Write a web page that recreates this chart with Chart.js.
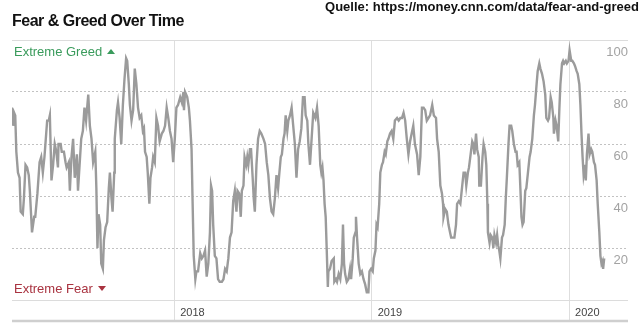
<!DOCTYPE html>
<html>
<head>
<meta charset="utf-8">
<title>Fear &amp; Greed Over Time</title>
<script src="https://cdn.jsdelivr.net/npm/chart.js@4/dist/chart.umd.min.js"></script>
<style>
  html, body { margin: 0; padding: 0; background: #fff; }
  #wrap { position: relative; width: 641px; height: 333px; overflow: hidden; font-family: "Liberation Sans", Arial, Helvetica, sans-serif; }
  #chart { position: absolute; left: 0; top: 0; }
  .title { position: absolute; left: 12px; top: 11px; font-size: 16px; line-height: 20px; font-weight: bold; letter-spacing: -0.5px; color: #111; white-space: nowrap; }
  .source { position: absolute; right: 2px; top: -1px; font-size: 13px; line-height: 15px; font-weight: bold; color: #111; white-space: nowrap; }
  .zone { position: absolute; left: 14px; font-size: 13px; line-height: 15px; white-space: nowrap; }
  .greed { top: 44px; color: #3a9b5c; }
  .fear { top: 281px; color: #a93340; }
  .tri { display: inline-block; width: 0; height: 0; margin-left: 5px; vertical-align: 2px; border-left: 4.5px solid transparent; border-right: 4.5px solid transparent; }
  .greed .tri { border-bottom: 5px solid #3a9b5c; }
  .fear .tri { border-top: 5px solid #a93340; }
</style>
</head>
<body>
<div id="wrap">
  <canvas id="chart" width="641" height="333"></canvas>
  <div class="title">Fear &amp; Greed Over Time</div>
  <div class="source">Quelle: https://money.cnn.com/data/fear-and-greed</div>
  <div class="zone greed">Extreme Greed<span class="tri"></span></div>
  <div class="zone fear">Extreme Fear<span class="tri"></span></div>
</div>
<script>
// Day of each reading, counted from 1 Jan 2017
const days = [
  65, 67, 69, 71, 73, 76, 79, 81, 85, 87, 90, 93, 96, 98, 102, 106, 108, 112, 116, 119,
  122, 125, 130, 133, 135, 138, 141, 144, 147, 150, 151, 155, 157, 161, 164, 166, 170, 172, 175, 178,
  181, 185, 187, 190, 193, 196, 199, 202, 206, 209, 212, 215, 219, 221, 223, 225, 228, 230, 233, 235,
  238, 241, 244, 246, 249, 251, 254, 255, 259, 261, 264, 267, 270, 273, 276, 278, 281, 283, 286, 289,
  292, 295, 298, 301, 304, 307, 309, 311, 314, 316, 319, 321, 324, 326, 329, 332, 335, 338,
  342, 345, 348, 351, 354, 357, 360, 363, 366, 369, 372, 376, 379, 382, 383, 385, 389, 392, 394, 397,
  399, 401, 404, 406, 409, 413, 416, 419, 422, 425, 428, 431, 433, 435, 437, 440, 443, 446, 449, 453,
  456, 459, 462, 465, 468, 471, 474, 477, 480, 482, 485, 488, 490, 493, 495, 498, 500, 502, 505, 507,
  510, 512, 514, 517, 520, 523, 526, 530, 533, 536, 539, 542, 545, 548, 551, 554, 557, 559, 562, 564,
  567, 569, 571, 574, 576, 579, 582, 585, 588, 591, 594, 597, 600, 603, 606, 608, 611, 613, 616, 622,
  626, 629, 632, 635, 637, 639, 641, 643, 645, 647, 649, 650, 653, 656, 660, 661, 664, 666, 669, 672,
  675, 677, 679, 681, 684, 687, 690, 692, 695, 697, 700, 701, 703, 706, 709, 712, 715, 718, 721, 724,
  726, 729, 732, 734, 737, 739, 741, 744, 746, 749, 751, 754, 756, 759, 761, 764, 767, 770, 773, 777,
  780, 783, 786, 789, 792, 795, 798, 801, 804, 807, 810, 814, 817, 820, 823, 826, 829, 832, 835, 838,
  842, 845, 849, 851, 854, 857, 860, 862, 863, 866, 869, 872, 875, 877, 879, 883, 886, 888, 891, 894,
  897, 900, 903, 905, 908, 910, 913, 916, 918, 920, 923, 925, 928, 929, 932, 935, 937, 940, 942, 944,
  945, 948, 950, 953, 955, 957, 960, 962, 964, 966, 968, 971, 973, 976, 978, 980, 983, 985, 988, 990,
  993, 996, 998, 1000, 1003, 1005, 1007, 1009, 1011, 1014, 1016, 1019, 1022, 1024, 1027, 1030, 1032, 1035, 1037, 1040,
  1042, 1045, 1048, 1051, 1053, 1056, 1058, 1061, 1063, 1066, 1067, 1070, 1072, 1075, 1077, 1079, 1082, 1084, 1086, 1089,
  1091, 1094, 1096, 1099, 1101, 1104, 1106, 1109, 1111, 1114, 1116, 1118, 1120, 1122, 1125, 1126, 1128, 1131, 1133, 1136,
  1138, 1141, 1143, 1146, 1148, 1151, 1153, 1155, 1157, 1158, 1160
];

// Fear & Greed index reading (0 = extreme fear, 100 = extreme greed)
const fearGreed = [
  74, 67, 72, 71, 57, 49, 47, 34, 33, 39, 52, 51, 48, 42, 26, 32, 32, 41, 53, 55,
  49, 55, 69, 69, 71, 46, 52, 60, 57, 51, 60, 60, 57, 57, 53, 51, 53, 42, 55, 62,
  47, 56, 42, 52, 62, 65, 74, 69, 79, 67, 62, 53, 57, 43, 20, 33, 29, 14, 12, 23,
  28, 30, 43, 49, 39, 34, 49, 62, 73, 76, 70, 60, 75, 85, 93, 92, 83, 75, 69, 73,
  89, 83, 74, 70, 71, 65, 66, 57, 55, 49, 37, 47, 51, 55, 53, 70, 67, 61,
  64, 65, 67, 74, 70, 65, 62, 53, 62, 74, 75, 78, 76, 80, 73, 80, 78, 74, 69, 58,
  37, 17, 8, 11, 11, 18, 16, 17, 19, 9, 14, 26, 44, 42, 29, 17, 16, 8, 7, 7,
  8, 12, 11, 16, 24, 26, 38, 42, 34, 42, 41, 32, 42, 44, 55, 52, 55, 52, 58, 58,
  47, 39, 34, 52, 62, 65, 64, 62, 60, 53, 48, 39, 34, 33, 39, 48, 43, 48, 55, 56,
  62, 64, 71, 65, 69, 71, 74, 67, 60, 47, 58, 61, 66, 78, 78, 71, 69, 60, 52, 72,
  70, 74, 67, 52, 49, 51, 46, 37, 32, 19, 5, 11, 12, 15, 16, 7, 8, 7, 10, 8,
  14, 29, 14, 10, 7, 8, 12, 8, 16, 24, 26, 32, 24, 14, 10, 11, 8, 6, 3, 3,
  11, 12, 11, 16, 19, 29, 28, 37, 49, 52, 53, 57, 56, 61, 62, 64, 65, 62, 69, 70,
  69, 70, 70, 72, 69, 62, 56, 61, 64, 67, 60, 56, 48, 55, 74, 74, 73, 69, 70, 71,
  75, 71, 70, 62, 57, 44, 41, 37, 32, 35, 34, 29, 26, 24, 24, 24, 29, 37, 38, 37,
  43, 49, 49, 44, 49, 51, 56, 61, 60, 56, 64, 58, 55, 44, 44, 55, 60, 57, 52, 37,
  26, 22, 25, 24, 20, 25, 22, 25, 21, 19, 16, 24, 25, 29, 39, 47, 60, 67, 67, 65,
  60, 57, 57, 52, 53, 43, 32, 29, 30, 42, 43, 49, 55, 57, 62, 71, 75, 83, 88, 91,
  89, 87, 84, 79, 70, 69, 70, 78, 76, 70, 64, 69, 67, 61, 73, 83, 91, 92, 91, 92,
  91, 92, 96, 92, 92, 91, 90, 88, 87, 83, 75, 64, 55, 48, 52, 46, 56, 64, 56, 58,
  57, 53, 52, 46, 37, 26, 17, 14, 15, 12, 16
];

// Year boundaries on the time axis (days since 1 Jan 2017) and their labels
const yearDays = [365, 730, 1095];
const yearLabels = ['2018', '2019', '2020'];

// Index levels marked on the value axis
const valueTicks = [0, 20, 40, 60, 80, 100];

const points = days.map((d, i) => ({ x: d, y: fearGreed[i] }));

// Heavier rule under the year labels
const bottomRule = {
  id: 'bottomRule',
  afterDraw(chart) {
    const { ctx, chartArea } = chart;
    const xs = chart.scales.x;
    ctx.save();
    ctx.strokeStyle = '#cfcfcf';
    ctx.lineWidth = 2.5;
    ctx.beginPath();
    ctx.moveTo(chartArea.left, xs.bottom);
    ctx.lineTo(chartArea.right, xs.bottom);
    ctx.stroke();
    ctx.restore();
  }
};

new Chart(document.getElementById('chart'), {
  type: 'line',
  data: {
    datasets: [{
      data: points,
      borderColor: '#9b9b9b',
      borderWidth: 2.4,
      pointRadius: 0,
      tension: 0,
      fill: false
    }]
  },
  options: {
    responsive: false,
    animation: false,
    layout: { padding: { left: 12, right: 13, top: 40, bottom: 12 } },
    plugins: { legend: { display: false }, tooltip: { enabled: false } },
    scales: {
      x: {
        type: 'linear',
        min: 65,
        max: 1204,
        afterBuildTicks: s => { s.ticks = yearDays.map(v => ({ value: v })); },
        afterFit: s => { s.height = 21; },
        grid: { color: '#dedede', lineWidth: 1, drawTicks: true, tickLength: 21, tickColor: '#dedede' },
        border: { display: false },
        ticks: {
          autoSkip: false,
          maxRotation: 0,
          align: 'start',
          labelOffset: 6,
          padding: -15,
          color: '#444',
          font: { family: '"Liberation Sans", Arial, sans-serif', size: 11 },
          callback: v => { const i = yearDays.indexOf(v); return i >= 0 ? yearLabels[i] : ''; }
        }
      },
      y: {
        position: 'right',
        min: 0,
        max: 100,
        afterBuildTicks: s => { s.ticks = valueTicks.map(v => ({ value: v })); },
        afterFit: s => { s.width = 0; },
        grid: {
          drawTicks: false,
          lineWidth: 1,
          color: c => (c.tick && (c.tick.value === 0 || c.tick.value === 100)) ? '#dcdcdc' : '#c2c2c2'
        },
        border: {
          display: false,
          dash: c => (c.tick && (c.tick.value === 0 || c.tick.value === 100)) ? [] : [2, 2]
        },
        ticks: {
          mirror: true,
          padding: 0,
          labelOffset: 12,
          color: '#a3a3a3',
          font: { family: '"Liberation Sans", Arial, sans-serif', size: 13 },
          callback: v => v === 0 ? '' : String(v)
        }
      }
    }
  },
  plugins: [bottomRule]
});
</script>
</body>
</html>
